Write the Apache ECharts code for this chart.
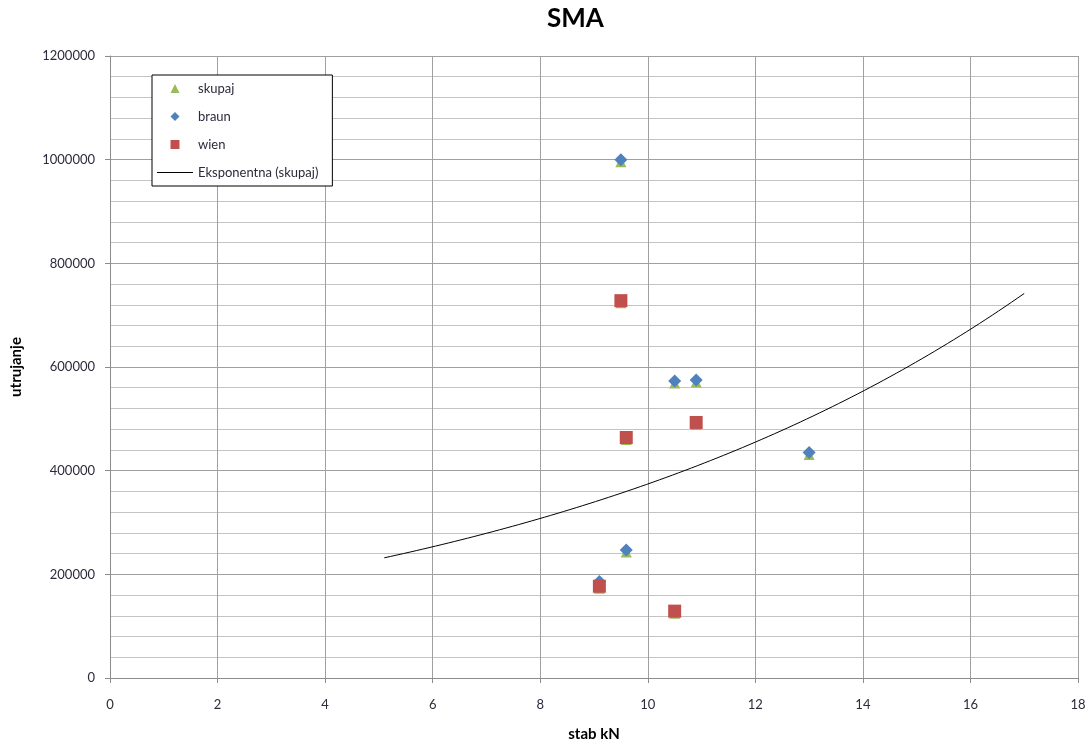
<!DOCTYPE html>
<html>
<head>
<meta charset="utf-8">
<script src="https://cdn.jsdelivr.net/npm/echarts@6/dist/echarts.min.js"></script>
<style>html,body{margin:0;padding:0;background:#fff;}#c{width:1092px;height:746px;}</style>
</head>
<body>
<div id="c"></div>
<script>
// Data
const braunX = [9.5, 10.5, 10.9, 13, 9.6, 9.1];
const braunY = [1000000, 573000, 575000, 435000, 247000, 186000];
const wienX = [9.5, 9.6, 10.9, 9.1, 10.5];
const wienY = [728000, 464000, 493000, 177000, 129000];
// skupaj = all points together
const skupajX = braunX.concat(wienX);
const skupajY = braunY.concat(wienY);
const xTicks = [0, 2, 4, 6, 8, 10, 12, 14, 16, 18];
const trendForecast = 4; // Excel trendline forecast forward/backward

// Exponential least squares fit (as Excel trendline)
function expFit(xs, ys) {
  const n = xs.length;
  let sx = 0, sl = 0;
  for (let i = 0; i < n; i++) { sx += xs[i]; sl += Math.log(ys[i]); }
  const mx = sx / n, ml = sl / n;
  let cov = 0, vx = 0;
  for (let i = 0; i < n; i++) { cov += (xs[i] - mx) * (Math.log(ys[i]) - ml); vx += (xs[i] - mx) ** 2; }
  const b = cov / vx;
  const a = Math.exp(ml - b * mx);
  return { a, b };
}
const fit = expFit(skupajX, skupajY);
const tMin = Math.min(...skupajX) - trendForecast;
const tMax = Math.max(...skupajX) + trendForecast;
const trend = [];
for (let i = 0; i <= 100; i++) {
  const x = tMin + (tMax - tMin) * i / 100;
  trend.push([x, fit.a * Math.exp(fit.b * x)]);
}
const zip = (xs, ys) => xs.map((x, i) => [x, ys[i]]);

const font = 'Lato, "Open Sans", sans-serif';
const labelColor = '#2b2b3b';
const chart = echarts.init(document.getElementById('c'));
chart.setOption({
  animation: false,
  backgroundColor: '#fff',
  textStyle: { fontFamily: font },
  title: {
    text: 'SMA', left: 547, top: 6, padding: 0,
    textStyle: { fontSize: 26, fontWeight: 'bold', color: '#000', fontFamily: font }
  },
  grid: { left: 110, right: 14, top: 56, bottom: 68, outerBoundsMode: 'none' },
  legend: {
    orient: 'vertical', left: 152, top: 75,
    padding: [7, 14, 7, 5],
    borderColor: '#000', borderWidth: 1, backgroundColor: '#fff',
    itemWidth: 36, itemHeight: 9, itemGap: 15,
    symbolKeepAspect: true,
    textStyle: { fontSize: 13, color: labelColor, fontFamily: font },
    data: [
      { name: 'skupaj', icon: 'path://M0,10L5,0L10,10Z' },
      { name: 'braun', icon: 'path://M5,0L10,5L5,10L0,5Z' },
      { name: 'wien', icon: 'path://M0,0H10V10H0Z' },
      { name: 'Eksponentna (skupaj)', icon: 'path://M0,0H36V1.2H0Z' }
    ]
  },
  xAxis: {
    type: 'value', min: 0, max: 18, interval: 2,
    name: 'stab kN', nameLocation: 'middle', nameGap: 49,
    nameTextStyle: { fontWeight: 'bold', fontSize: 15, color: '#000' },
    axisLine: { lineStyle: { color: '#8c8c8c' } },
    axisTick: { show: true, length: 5, lineStyle: { color: '#8c8c8c' } },
    axisLabel: { fontSize: 13, color: labelColor, margin: 20, formatter: v => xTicks.includes(v) ? String(v) : '' },
    splitLine: { show: true, lineStyle: { color: '#a0a0a0', width: 1 } }
  },
  yAxis: {
    type: 'value', min: 0, max: 1200000, interval: 200000,
    name: 'utrujanje', nameLocation: 'middle', nameGap: 86, nameRotate: 90,
    nameTextStyle: { fontWeight: 'bold', fontSize: 15, color: '#000' },
    axisLine: { show: true, lineStyle: { color: '#8c8c8c' } },
    axisTick: { show: true, length: 5, lineStyle: { color: '#8c8c8c' } },
    axisLabel: { fontSize: 13, color: labelColor, margin: 15, formatter: v => String(v) },
    splitLine: { show: true, lineStyle: { color: '#a0a0a0', width: 1 } },
    minorTick: { show: false, splitNumber: 5 },
    minorSplitLine: { show: true, lineStyle: { color: '#c4c4c4', width: 1 } }
  },
  series: [
    {
      name: 'skupaj', type: 'scatter', symbol: 'triangle', symbolSize: 11,
      itemStyle: { color: '#9BBB59', opacity: 1 }, data: zip(skupajX, skupajY), z: 3,
      symbolOffset: [0, 2]
    },
    {
      name: 'braun', type: 'scatter', symbol: 'diamond', symbolSize: 13,
      itemStyle: { color: '#4F81BD', opacity: 1 }, data: zip(braunX, braunY), z: 4
    },
    {
      name: 'wien', type: 'scatter', symbol: 'rect', symbolSize: 13,
      itemStyle: { color: '#C0504D', opacity: 1 }, data: zip(wienX, wienY), z: 5
    },
    {
      name: 'Eksponentna (skupaj)', type: 'line', showSymbol: false, symbol: 'none',
      smooth: false, data: trend, z: 2,
      lineStyle: { color: '#000', width: 1 }, itemStyle: { color: '#000' }
    }
  ]
});
</script>
</body>
</html>
